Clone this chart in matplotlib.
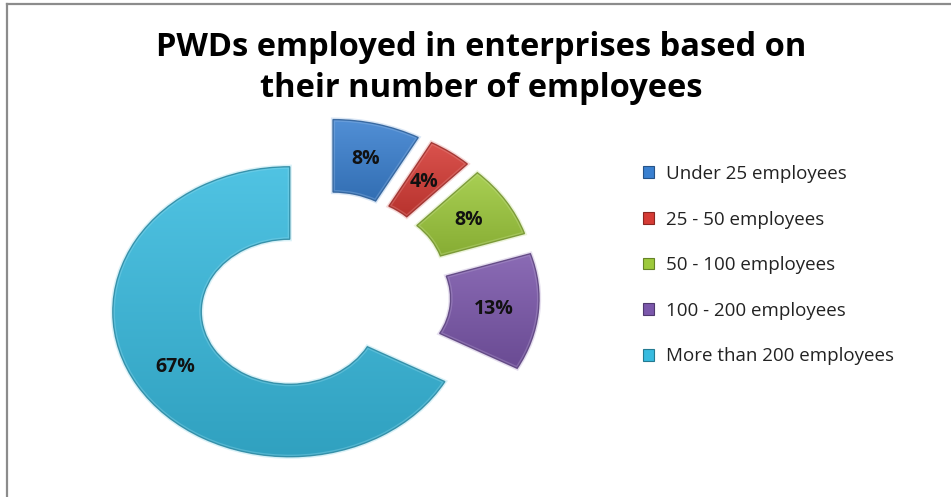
import numpy as np
import matplotlib
matplotlib.use("Agg")
import matplotlib.pyplot as plt
from matplotlib.lines import Line2D
from matplotlib.patches import PathPatch
from matplotlib.colors import to_rgb

# Share of persons with disabilities employed, by enterprise size
categories = ["Under 25 employees", "25 - 50 employees", "50 - 100 employees",
              "100 - 200 employees", "More than 200 employees"]
shares = [8, 4, 8, 13, 67]
colors = ["#3a80d0", "#d53b35", "#9dc93c", "#7b57ab", "#38bbdf"]
title = "PWDs employed in enterprises based on\ntheir number of employees"

plt.rcParams["font.family"] = ["Open Sans", "DejaVu Sans"]

W, H = 951, 497
fig = plt.figure(figsize=(W / 100, H / 100), dpi=100)
fig.patch.set_facecolor("white")

# Axes placed so the ring centre and radii land where wanted (in pixels)
cx, cy = 323.3, 295.5
rx, ry = 177.0, 145.0
xl, yl = 1.6, 1.38
ax = fig.add_axes([(cx - xl * rx) / W, (H - (cy + yl * ry)) / H,
                   2 * xl * rx / W, 2 * yl * ry / H])

wedges, texts, autotexts = ax.pie(
    shares, colors=colors, startangle=90, counterclock=False,
    explode=[0.22] * len(shares), radius=1.0,
    wedgeprops=dict(width=0.5, edgecolor="none"),
    autopct=lambda p: f"{p:.0f}%", pctdistance=0.75,
    textprops=dict(fontsize=14, fontweight="bold", color="#111111"))


def shade(c, f):
    r = np.array(to_rgb(c))
    if f >= 0:
        return r + (1 - r) * f
    return r * (1 + f)


# Soft vertical gradient inside each segment for the bevelled look
for w, c in zip(wedges, colors):
    ext = w.get_path().get_extents()
    top, bot = shade(c, 0.12), shade(c, -0.14)
    t = np.linspace(0, 1, 256)[:, None, None]
    img = top[None, None, :] * (1 - t) + bot[None, None, :] * t
    im = ax.imshow(img, extent=[ext.x0, ext.x1, ext.y0, ext.y1], origin="upper",
                   aspect="auto", interpolation="bilinear", zorder=1.5)
    im.set_clip_path(w)
    # light inner highlight and darker rim
    ax.add_patch(PathPatch(w.get_path(), facecolor="none",
                           edgecolor=shade(c, 0.45), linewidth=3.0,
                           alpha=0.35, zorder=1.7))
    ax.add_patch(PathPatch(w.get_path(), facecolor="none",
                           edgecolor=shade(c, -0.3), linewidth=1.0,
                           alpha=0.8, zorder=1.8))

for t in autotexts:
    t.set_zorder(3)

ax.set_aspect("auto")
ax.set_xlim(-xl, xl)
ax.set_ylim(-yl, yl)
ax.axis("off")

fig.text(481 / W, 1 - 68 / H, title, ha="center", va="center",
         fontsize=23.5, fontweight="bold", color="#000000", linespacing=1.33)

leg = fig.legend(wedges, categories, loc="upper left",
                 bbox_to_anchor=(643 / W, 1 - 165 / H), frameon=False,
                 fontsize=13.5, handlelength=0.6, handleheight=0.6,
                 handletextpad=0.6, labelspacing=1.47, borderpad=0,
                 borderaxespad=0)
for h, c in zip(leg.legend_handles, colors):
    h.set_edgecolor(shade(c, -0.35))
    h.set_linewidth(0.8)
for t in leg.get_texts():
    t.set_color("#222222")

# chart frame (left and top edges)
fig.add_artist(Line2D([7 / W, 7 / W], [0, 1 - 4 / H], transform=fig.transFigure,
                      color="#8c8c8c", linewidth=1.6))
fig.add_artist(Line2D([7 / W, 1], [1 - 4 / H, 1 - 4 / H], transform=fig.transFigure,
                      color="#8c8c8c", linewidth=1.6))

fig.savefig("out.png", dpi=100, facecolor="white")
